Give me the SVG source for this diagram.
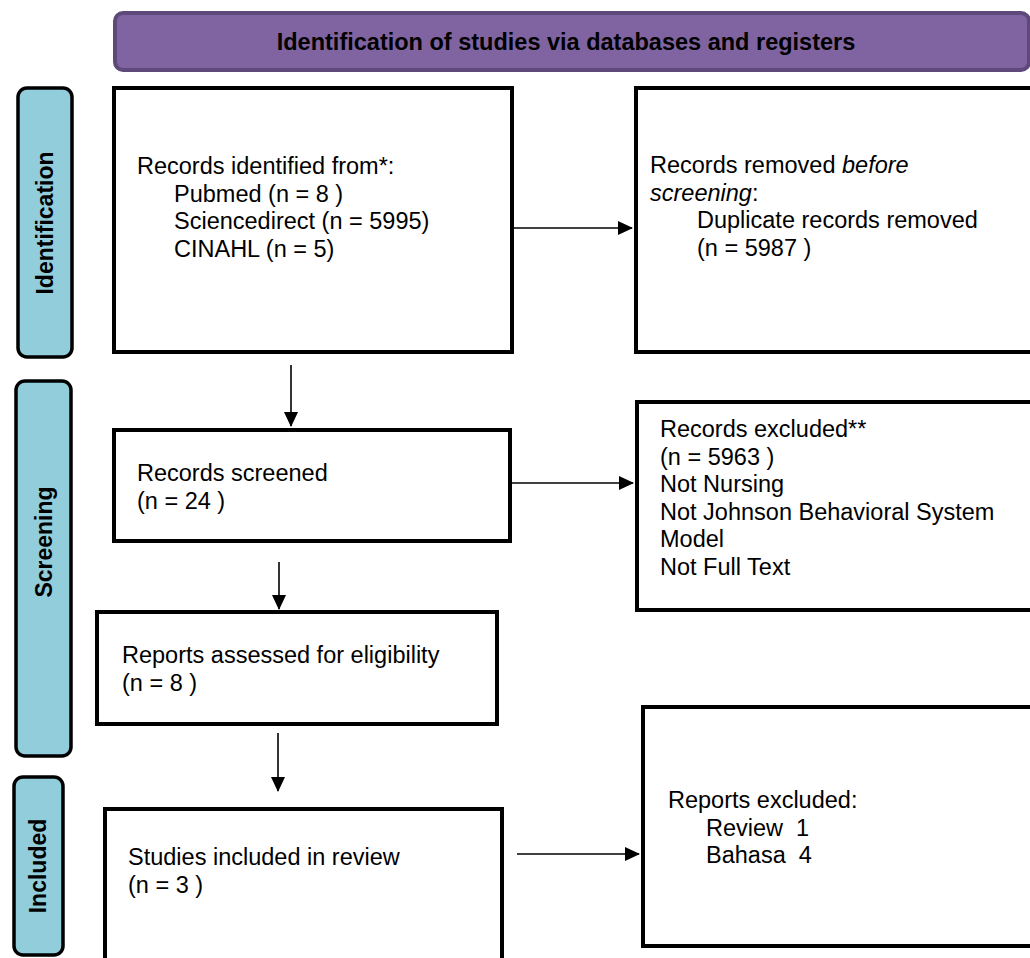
<svg xmlns="http://www.w3.org/2000/svg" width="1030" height="958" viewBox="0 0 1030 958">
  <defs>
    <marker id="arr" markerWidth="15" markerHeight="14" refX="14" refY="7" orient="auto" markerUnits="userSpaceOnUse">
      <path d="M0,0 L15,7 L0,14 Z" fill="#000"/>
    </marker>
    <style>
      .box { fill: #fff; stroke: #000; stroke-width: 4; }
      .phase { fill: #92CDDC; stroke: #000; stroke-width: 3.5; }
      .hdr { fill: #8064A2; stroke: #5F497A; stroke-width: 4; }
      .t { font-family: "Liberation Sans", Arial, sans-serif; font-size: 23.5px; fill: #000; white-space: pre; }
      .pt { font-family: "Liberation Sans", Arial, sans-serif; font-size: 23px; font-weight: bold; fill: #000; text-anchor: middle; }
      .ht { font-family: "Liberation Sans", Arial, sans-serif; font-size: 23.5px; font-weight: bold; fill: #000; text-anchor: middle; }
      .conn { stroke: #000; stroke-width: 1.6; fill: none; marker-end: url(#arr); }
    </style>
  </defs>
  <rect width="1030" height="958" fill="#fff"/>

  <g id="header">
    <rect class="hdr" x="115" y="13" width="914" height="57" rx="8"/>
    <text class="ht" x="566" y="50">Identification of studies via databases and registers</text>
  </g>

  <g id="phase-identification">
    <rect class="phase" x="18" y="88" width="54" height="269" rx="9"/>
    <text class="pt" transform="translate(53 223) rotate(-90)">Identification</text>
  </g>
  <g id="phase-screening">
    <rect class="phase" x="16" y="381" width="55" height="375" rx="9"/>
    <text class="pt" transform="translate(52 542) rotate(-90)">Screening</text>
  </g>
  <g id="phase-included">
    <rect class="phase" x="14" y="777" width="49" height="178" rx="9"/>
    <text class="pt" transform="translate(46 866) rotate(-90)">Included</text>
  </g>

  <g id="records-identified">
    <rect class="box" x="114" y="88" width="398" height="264"/>
    <text class="t" x="137" y="174">Records identified from*:</text>
    <text class="t" x="174" y="201.5">Pubmed (n = 8 )</text>
    <text class="t" x="174" y="229">Sciencedirect (n = 5995)</text>
    <text class="t" x="174" y="256.5">CINAHL (n = 5)</text>
  </g>

  <g id="records-removed">
    <rect class="box" x="636" y="88" width="396" height="264"/>
    <text class="t" x="650" y="173">Records removed <tspan font-style="italic">before</tspan></text>
    <text class="t" x="650" y="200.5"><tspan font-style="italic">screening</tspan>:</text>
    <text class="t" x="697" y="228">Duplicate records removed</text>
    <text class="t" x="697" y="255.5">(n = 5987 )</text>
  </g>

  <g id="records-screened">
    <rect class="box" x="114" y="430" width="396" height="111"/>
    <text class="t" x="137" y="481">Records screened</text>
    <text class="t" x="137" y="508.5">(n = 24 )</text>
  </g>

  <g id="records-excluded">
    <rect class="box" x="637" y="402" width="396" height="208"/>
    <text class="t" x="660" y="437">Records excluded**</text>
    <text class="t" x="660" y="464.5">(n = 5963 )</text>
    <text class="t" x="660" y="492">Not Nursing</text>
    <text class="t" x="660" y="519.5">Not Johnson Behavioral System</text>
    <text class="t" x="660" y="547">Model</text>
    <text class="t" x="660" y="574.5">Not Full Text</text>
  </g>

  <g id="reports-assessed">
    <rect class="box" x="97" y="612" width="400" height="112"/>
    <text class="t" x="122" y="663">Reports assessed for eligibility</text>
    <text class="t" x="122" y="691">(n = 8 )</text>
  </g>

  <g id="studies-included">
    <rect class="box" x="105" y="809" width="397" height="160"/>
    <text class="t" x="128" y="865">Studies included in review</text>
    <text class="t" x="128" y="892.5">(n = 3 )</text>
  </g>

  <g id="reports-excluded">
    <rect class="box" x="643" y="707" width="392" height="239"/>
    <text class="t" x="668" y="808">Reports excluded:</text>
    <text class="t" x="706" y="835.5">Review&#160;&#160;1</text>
    <text class="t" x="706" y="863">Bahasa&#160;&#160;4</text>
  </g>

  <g id="connectors">
    <line class="conn" x1="514" y1="228" x2="632" y2="228"/>
    <line class="conn" x1="291" y1="365" x2="291" y2="426"/>
    <line class="conn" x1="512" y1="483" x2="633" y2="483"/>
    <line class="conn" x1="279" y1="562" x2="279" y2="609"/>
    <line class="conn" x1="278" y1="733" x2="278" y2="791"/>
    <line class="conn" x1="517" y1="854" x2="639" y2="854"/>
  </g>
</svg>
